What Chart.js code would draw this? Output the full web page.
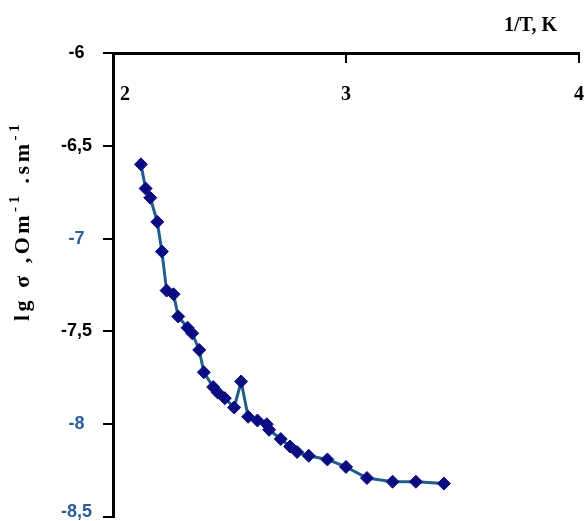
<!DOCTYPE html>
<html>
<head>
<meta charset="utf-8">
<script src="https://cdn.jsdelivr.net/npm/chart.js@4.4.0/dist/chart.umd.min.js"></script>
<style>
  html, body { margin: 0; padding: 0; background: #ffffff; }
  #wrap { width: 584px; height: 521px; }
</style>
</head>
<body>
<div id="wrap"><canvas id="c" width="584" height="521"></canvas></div>
<script>
// Conductivity vs reciprocal temperature
const invT = [2.12, 2.14, 2.16, 2.19, 2.21, 2.23, 2.26, 2.28, 2.32, 2.34, 2.37,
              2.39, 2.43, 2.45, 2.48, 2.52, 2.55, 2.58, 2.62, 2.66, 2.67, 2.72,
              2.76, 2.79, 2.84, 2.92, 3.00, 3.09, 3.20, 3.30, 3.42];
const lgSigma = [-6.60, -6.73, -6.78, -6.91, -7.07, -7.28, -7.30, -7.42, -7.48, -7.51, -7.60,
                 -7.72, -7.80, -7.83, -7.86, -7.91, -7.77, -7.96, -7.98, -8.00, -8.03, -8.08,
                 -8.12, -8.15, -8.17, -8.19, -8.23, -8.29, -8.31, -8.31, -8.32];
const xTicks = [2, 3, 4];
const yTicks = [-6, -6.5, -7, -7.5, -8, -8.5];
const blueTicks = [-7, -8, -8.5];

const xTitle = '1/T, K';
const yTitleParts = [
  { t: 'lg σ ,Om', sup: false },
  { t: '-1', sup: true },
  { t: ' .sm', sup: false },
  { t: '-1', sup: true }
];

const points = invT.map((x, i) => ({ x: x, y: lgSigma[i] }));

const textPlugin = {
  id: 'axisText',
  afterDraw(chart) {
    const ctx = chart.ctx;
    const xs = chart.scales.x;
    ctx.save();
    // x tick labels sit below the top axis line
    ctx.fillStyle = '#000';
    ctx.font = 'bold 20px "Liberation Serif"';
    ctx.textAlign = 'center';
    ctx.textBaseline = 'middle';
    xTicks.forEach(v => {
      let px = xs.getPixelForValue(v);
      if (px < chart.chartArea.left + 8) px += 12;
      ctx.fillText(String(v), px, 95);
    });
    // x axis title
    ctx.textAlign = 'right';
    ctx.fillText(xTitle, 557, 26);

    // rotated y axis title with superscripts, spread to a fixed length
    const bigFont = 'bold 22px "Liberation Serif"';
    const supFont = 'bold 15px "Liberation Serif"';
    const targetLen = 200;
    let total = 0, chars = 0;
    yTitleParts.forEach(p => {
      ctx.font = p.sup ? supFont : bigFont;
      p.w = ctx.measureText(p.t).width;
      total += p.w;
      chars += p.t.length;
    });
    const spacing = Math.max(0, (targetLen - total) / chars);
    ctx.letterSpacing = spacing.toFixed(2) + 'px';
    ctx.translate(23, 221);
    ctx.rotate(-Math.PI / 2);
    ctx.textAlign = 'left';
    ctx.textBaseline = 'middle';
    let cx = -targetLen / 2;
    yTitleParts.forEach(p => {
      ctx.font = p.sup ? supFont : bigFont;
      ctx.fillText(p.t, cx, p.sup ? -8 : 0);
      cx += p.w + spacing * p.t.length;
    });
    ctx.restore();
  }
};

new Chart(document.getElementById('c'), {
  type: 'scatter',
  data: {
    datasets: [{
      data: points,
      showLine: true,
      borderColor: '#1d5f88',
      borderWidth: 3,
      tension: 0,
      pointStyle: 'rectRot',
      pointRadius: 6.5,
      pointBackgroundColor: '#0b0b82',
      pointBorderColor: '#0b0b82',
      pointBorderWidth: 1
    }]
  },
  options: {
    responsive: false,
    devicePixelRatio: 1,
    animation: false,
    layout: { autoPadding: false, padding: { left: 0, top: 0, right: 5, bottom: 4 } },
    plugins: { legend: { display: false }, tooltip: { enabled: false } },
    scales: {
      x: {
        type: 'linear',
        position: 'top',
        min: 2,
        max: 4,
        afterBuildTicks: s => { s.ticks = xTicks.map(v => ({ value: v })); },
        afterFit: s => { s.height = 53; s.paddingLeft = 0; s.paddingRight = 0; },
        ticks: { display: false },
        grid: { drawOnChartArea: false, drawTicks: true, tickLength: -10, color: '#000', lineWidth: 2 },
        border: { color: '#000', width: 3 }
      },
      y: {
        type: 'linear',
        position: 'left',
        min: -8.5,
        max: -6,
        afterBuildTicks: s => { s.ticks = yTicks.map(v => ({ value: v })); },
        afterFit: s => { s.width = 113; s.paddingTop = 0; s.paddingBottom = 0; },
        ticks: {
          padding: 11,
          crossAlign: 'center',
          font: { family: '"Liberation Sans"', size: 18, weight: 'bold', lineHeight: 0.6 },
          color: c => blueTicks.includes(c.tick.value) ? '#2b5d9b' : '#000',
          // the lowest label is lifted off the canvas edge with an empty second line
          callback: v => {
            const s = String(v).replace('.', ',');
            return v === yTicks[yTicks.length - 1] ? [s, ''] : s;
          }
        },
        grid: { drawOnChartArea: false, drawTicks: true, tickLength: 10, color: '#000', lineWidth: 2 },
        border: { color: '#000', width: 3 }
      }
    }
  },
  plugins: [textPlugin]
});
</script>
</body>
</html>
